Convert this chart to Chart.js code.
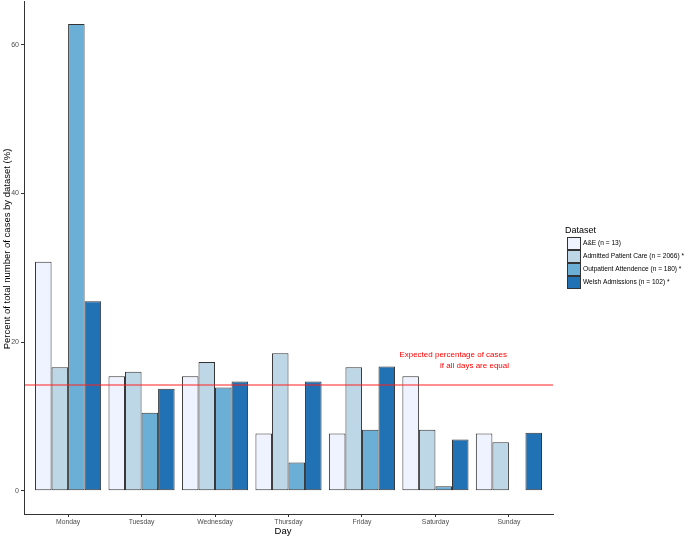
<!DOCTYPE html>
<html>
<head>
<meta charset="utf-8">
<script src="https://cdn.jsdelivr.net/npm/chart.js@4.4.0/dist/chart.umd.min.js"></script>
<style>
html,body{margin:0;padding:0;background:#fff;}
#wrap{position:relative;width:685px;height:537px;}
</style>
</head>
<body>
<div id="wrap"><canvas id="c" width="685" height="537"></canvas></div>
<script>
const days = ["Monday","Tuesday","Wednesday","Thursday","Friday","Saturday","Sunday"];
const seriesNames = ["A&E (n = 13)","Admitted Patient Care (n = 2066) *","Outpatient Attendence (n = 180) *","Welsh Admissions (n = 102) *"];
const aeValues = [30.8, 15.4, 15.4, 7.7, 7.7, 15.4, 7.7];
const apcValues = [16.6, 16.0, 17.3, 18.5, 16.6, 8.2, 6.5];
const oaValues = [62.8, 10.5, 13.9, 3.8, 8.2, 0.6, 0];
const welshValues = [25.5, 13.7, 14.7, 14.7, 16.7, 6.9, 7.8];
const seriesColors = ["#eff3ff","#bdd7e7","#6baed6","#2171b5"];
const yTicks = [0, 20, 40, 60];
const expectedValue = 100/7;
const annotationLines = ["Expected percentage of cases","if all days are equal"];

const allSeries = [aeValues, apcValues, oaValues, welshValues];
const datasets = allSeries.map((vals, i) => ({
  label: seriesNames[i],
  data: vals.map((v, j) => ({x: j + 1, y: v})),
  backgroundColor: seriesColors[i],
  borderColor: "#333333",
  borderWidth: 1,
  borderSkipped: false,
  categoryPercentage: 0.9,
  barPercentage: 1.0
}));

const font = "'Liberation Sans', Arial, sans-serif";

const overlay = {
  id: 'overlay',
  afterDraw(chart) {
    const ctx = chart.ctx;
    const ys = chart.scales.y;
    const area = chart.chartArea;
    const yp = ys.getPixelForValue(expectedValue);
    const ly = 2 * Math.floor(yp / 2) + 1;
    ctx.save();
    ctx.globalAlpha = 1;
    ctx.strokeStyle = "#ff2020";
    ctx.lineWidth = 1.2;
    ctx.setLineDash([]);
    ctx.beginPath();
    ctx.moveTo(area.left + 1, ly);
    ctx.lineTo(area.right, ly);
    ctx.stroke();
    ctx.fillStyle = "#ff0000";
    ctx.font = "8px " + font;
    ctx.textBaseline = "middle";
    ctx.textAlign = "right";
    ctx.fillText(annotationLines[0], 507, 355);
    ctx.fillText(annotationLines[1], 509, 366);
    ctx.fillStyle = "#000";
    ctx.font = "9.5px " + font;
    ctx.textAlign = "center";
    ctx.fillText("Day", 283, 531);
    ctx.save();
    ctx.translate(7, 249);
    ctx.rotate(-Math.PI/2);
    ctx.fillText("Percent of total number of cases by dataset (%)", 0, 0);
    ctx.restore();
    ctx.textAlign = "left";
    ctx.font = "9px " + font;
    ctx.fillText("Dataset", 565, 231);
    ctx.font = "6.6px " + font;
    for (let i = 0; i < seriesNames.length; i++) {
      const top = 237 + i * 13;
      ctx.fillStyle = seriesColors[i];
      ctx.fillRect(567, top, 13, 13);
      ctx.strokeStyle = "#333333";
      ctx.lineWidth = 1;
      ctx.strokeRect(567.5, top + 0.5, 13, 12);
      ctx.fillStyle = "#000";
      ctx.fillText(seriesNames[i], 583, top + 6.5);
    }
    ctx.restore();
  }
};

new Chart(document.getElementById('c'), {
  type: 'bar',
  data: { datasets },
  options: {
    responsive: false,
    animation: false,
    layout: { padding: { top: 1, right: 132, left: 0, bottom: 0 } },
    plugins: { legend: { display: false }, tooltip: { enabled: false } },
    scales: {
      x: {
        type: 'linear',
        offset: false,
        min: 0.4, max: 7.6,
        afterBuildTicks: s => { s.ticks = days.map((d, i) => ({value: i + 1})); },
        afterFit: s => { s.height = 23; s.paddingLeft = 0; s.paddingRight = 0; },
        ticks: {
          callback: v => days[v - 1] || '',
          font: { size: 6.8, family: font },
          color: "#4d4d4d",
          padding: 1,
          maxRotation: 0,
          autoSkip: false
        },
        grid: { offset: false, drawOnChartArea: false, drawTicks: true, tickLength: 3, color: "#333" },
        border: { display: true, color: "#333", width: 1 }
      },
      y: {
        type: 'linear',
        min: -3.14, max: 65.9,
        afterBuildTicks: s => { s.ticks = yTicks.map(v => ({value: v})); },
        afterFit: s => { s.width = 24; s.paddingTop = 0; s.paddingBottom = 0; },
        ticks: {
          font: { size: 7, family: font },
          color: "#4d4d4d",
          padding: 2
        },
        grid: { drawOnChartArea: false, drawTicks: true, tickLength: 3, color: "#333" },
        border: { display: true, color: "#333", width: 1 }
      }
    }
  },
  plugins: [overlay]
});
</script>
</body>
</html>
